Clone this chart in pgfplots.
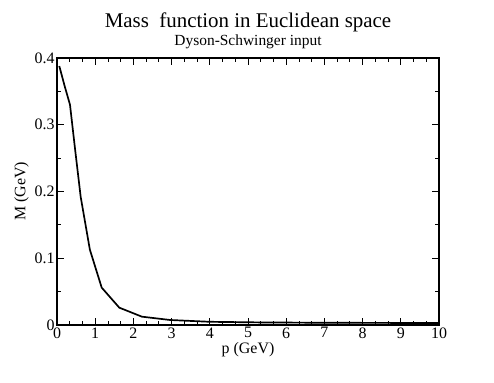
\documentclass[border=0pt]{standalone}
\usepackage{fontspec}
\setmainfont{Liberation Serif}
\usepackage{pgfplots}
\pgfplotsset{compat=1.18}

\begin{document}
\begin{tikzpicture}
\useasboundingbox (-57bp,-58bp) rectangle (437bp,325bp);
\begin{axis}[
  at={(0,0)}, anchor=south west,
  scale only axis,
  width=382bp, height=267bp,
  xmin=0, xmax=10, ymin=0, ymax=0.4,
  xtick={0,1,...,10},
  ytick={0,0.1,0.2,0.3,0.4},
  yticklabels={0,0.1,0.2,0.3,0.4},
  minor x tick num=2,
  minor y tick num=1,
  tick align=inside,
  major tick length=7bp,
  minor tick length=4bp,
  axis line style={line width=1.2pt},
  every tick/.style={line width=0.8pt, black},
  /pgf/number format/assume math mode=true,
  tick label style={font=\fontsize{16}{18}\selectfont},
  xticklabel style={yshift=1bp},
  yticklabel style={xshift=1bp},
  xlabel={p (GeV)},
  ylabel={M (GeV)},
  label style={font=\fontsize{16}{18}\selectfont},
  xlabel style={yshift=3bp},
  ylabel style={yshift=-1bp},
  clip=false,
]
\addplot[black, line width=1.7pt] coordinates {
  (0.06,0.388)(0.20,0.358)(0.34,0.330)(0.47,0.265)(0.62,0.192)
  (0.86,0.113)(1.17,0.056)(1.63,0.026)(2.22,0.0125)(2.96,0.0075)
  (4.0,0.0048)(5.4,0.0038)(7.3,0.0033)(10,0.003)
};
\node[font=\fontsize{21}{24}\selectfont, anchor=base] at (rel axis cs:0.5,1) [yshift=30bp] {Mass\ \ function in Euclidean space};
\node[font=\fontsize{15.5}{18}\selectfont, anchor=base] at (rel axis cs:0.5,1) [yshift=12bp] {Dyson-Schwinger input};
\end{axis}
\end{tikzpicture}
\end{document}
